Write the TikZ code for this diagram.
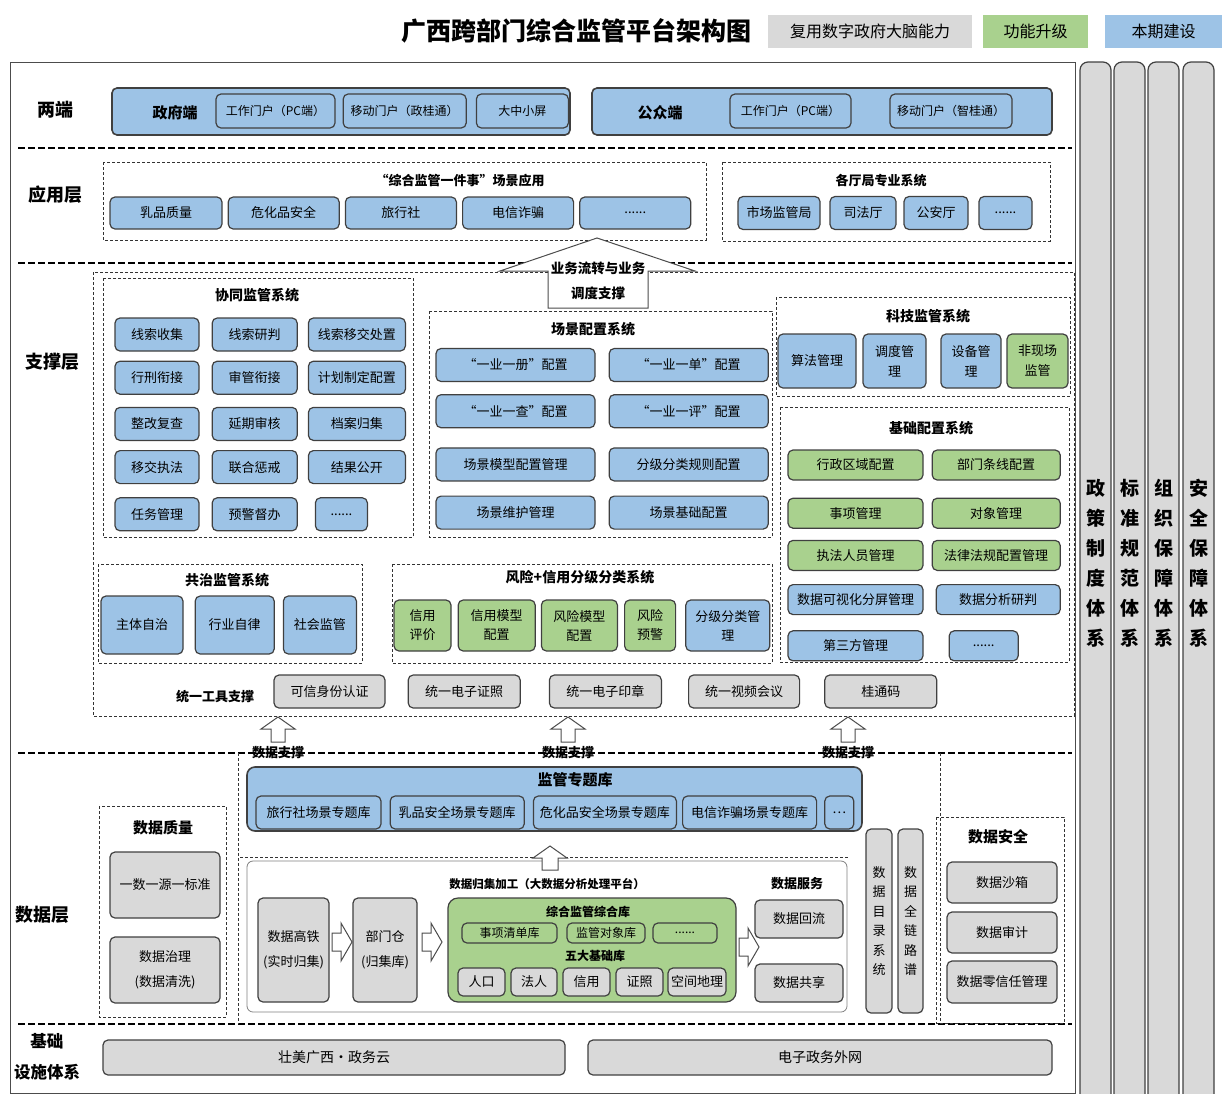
\documentclass[tikz,border=0pt]{standalone}
\usepackage{fontspec}
\setmainfont{Noto Sans CJK SC}
\usepackage{tikz}
\usetikzlibrary{positioning}

\definecolor{capblue}{HTML}{9DC3E6}
\definecolor{capgreen}{HTML}{A9D18E}
\definecolor{capgray}{HTML}{D9D9D9}

\begin{document}
\begin{tikzpicture}[x=1pt, y=-1pt,
    cell/.style={draw=black!75, line width=1.2pt, rounded corners=5pt, align=center, inner sep=2pt, font=\fontsize{13}{16}\selectfont},
    bluebox/.style={cell, fill=capblue},
    greenbox/.style={cell, fill=capgreen},
    graybox/.style={cell, fill=capgray},
    legend/.style={align=center, font=\fontsize{16}{19}\selectfont},
    wh/.style 2 args={minimum width=#1, minimum height=#2},
    fs/.style 2 args={font=\fontsize{#1}{#2}\selectfont},
    fb/.style 2 args={font=\bfseries\fontsize{#1}{#2}\selectfont},
    grp/.style={draw=black!80, densely dashed, line width=0.7pt},
    grptitle/.style={align=center, font=\bfseries\fontsize{14}{17}\selectfont},
    layer/.style={align=center, font=\bfseries\fontsize{18}{31}\selectfont},
    sepline/.style={draw=black, line width=2pt, dash pattern=on 7pt off 3pt},
    hollow/.style={draw=black!70, fill=white, line width=1pt},
    pillar/.style={draw=black!75, line width=1.2pt, fill=capgray, rounded corners=8pt}]

    \useasboundingbox (0,0) rectangle (1224,1093);

    % title and legend
    \node[fb={25}{28}] (title) at (576,31) {广西跨部门综合监管平台架构图};
    \node[legend, fill=capgray, wh={204}{33}] (lgreuse) at (870,31) {复用数字政府大脑能力};
    \node[legend, fill=capgreen, wh={105}{33}] (lgup) at (1035.5,31) {功能升级};
    \node[legend, fill=capblue, wh={117}{33}] (lgnew) at (1163.5,31) {本期建设};

    % frame and the four pillars on the right
    \draw[black!70, line width=1pt] (10,62) rectangle (1075,1093);
    \foreach \x/\t [count=\i] in {1080/{政\\策\\制\\度\\体\\系}, 1114/{标\\准\\规\\范\\体\\系},
                                  1148/{组\\织\\保\\障\\体\\系}, 1183/{安\\全\\保\\障\\体\\系}} {
        \draw[pillar] (\x,62) rectangle (\x+31,1110);
        \node[align=center, fb={19}{30}] (pillar\i) at (\x+15.5,563) {\t};
    }

    % layer separators
    \foreach \y in {148,263,753,1024}
        \draw[sepline] (18,\y) -- (1072,\y);

    \node[layer] (lyends) at (55,110) {两端};
    \node[layer] (lyapp) at (55,195) {应用层};
    \node[layer] (lysup) at (52,362) {支撑层};
    \node[layer] (lydata) at (42,915) {数据层};
    \node[layer, fb={16.5}{31}] (lybase) at (47,1057) {基础\\设施体系};

    % two ends
    \node[bluebox, line width=1.6pt, wh={458}{47}] (gov) at (341,111.5) {};
    \node[fb={15}{18}] (govlbl) at (175,113) {政府端};
    \node[bluebox, fs={12}{15}, wh={119}{34}] (govpc) at (275.5,111) {工作门户（PC端）};
    \node[bluebox, fs={12}{15}, wh={123}{34}, right=7pt of govpc] (govmob) {移动门户（政桂通）};
    \node[bluebox, fs={12}{15}, wh={92}{34}, right=9pt of govmob] (govscr) {大中小屏};

    \node[bluebox, line width=1.6pt, wh={460}{47}] (pub) at (822,111.5) {};
    \node[fb={15}{18}] (publbl) at (660,113) {公众端};
    \node[bluebox, fs={12}{15}, wh={121}{34}] (pubpc) at (790.5,111) {工作门户（PC端）};
    \node[bluebox, fs={12}{15}, wh={122}{34}] (pubmob) at (951,111) {移动门户（智桂通）};

    % application layer
    \draw[grp] (103,162) rectangle (706,240);
    \node[grptitle, fb={13}{16}] (scenetitle) at (460,181) {“综合监管一件事”场景应用};
    \node[bluebox, wh={112}{32}] (app1) at (166,213) {乳品质量};
    \node[bluebox, wh={111}{32}, right=5pt of app1] (app2) {危化品安全};
    \node[bluebox, wh={111}{32}, right=5pt of app2] (app3) {旅行社};
    \node[bluebox, wh={111}{32}, right=5pt of app3] (app4) {电信诈骗};
    \node[bluebox, wh={111}{32}, right=5pt of app4] (app5) {......};

    \draw[grp] (722,162) rectangle (1050,241);
    \node[grptitle, fb={13}{16}] (depttitle) at (881,181) {各厅局专业系统};
    \node[bluebox, wh={82}{33}] (dept1) at (779,213) {市场监管局};
    \node[bluebox, wh={66}{33}] (dept2) at (863,213) {司法厅};
    \node[bluebox, wh={64}{33}] (dept3) at (936,213) {公安厅};
    \node[bluebox, wh={53}{33}] (dept4) at (1005.5,213) {......};

    % support layer
    \draw[grp] (93,272) rectangle (1074,716);

    \draw[grp] (103,278) rectangle (413,537);
    \node[grptitle] (xttitle) at (257,295) {协同监管系统};
    \node[bluebox, wh={84}{33}] (xt11) at (157,334.5) {线索收集};
    \node[bluebox, wh={85}{33}, right=12pt of xt11] (xt12) {线索研判};
    \node[bluebox, wh={97}{33}, right=10pt of xt12] (xt13) {线索移交处置};
    \node[bluebox, wh={84}{33}, below=9pt of xt11] (xt21) {行刑衔接};
    \node[bluebox, wh={85}{33}, right=12pt of xt21] (xt22) {审管衔接};
    \node[bluebox, wh={97}{33}, right=10pt of xt22] (xt23) {计划制定配置};
    \node[bluebox, wh={84}{33}, below=12pt of xt21] (xt31) {整改复查};
    \node[bluebox, wh={85}{33}, right=12pt of xt31] (xt32) {延期审核};
    \node[bluebox, wh={97}{33}, right=10pt of xt32] (xt33) {档案归集};
    \node[bluebox, wh={84}{33}, below=9pt of xt31] (xt41) {移交执法};
    \node[bluebox, wh={85}{33}, right=12pt of xt41] (xt42) {联合惩戒};
    \node[bluebox, wh={97}{33}, right=10pt of xt42] (xt43) {结果公开};
    \node[bluebox, wh={84}{33}, below=13pt of xt41] (xt51) {任务管理};
    \node[bluebox, wh={85}{33}, right=12pt of xt51] (xt52) {预警督办};
    \node[bluebox, wh={52}{33}, right=17pt of xt52] (xt53) {......};

    \draw[grp] (429,311) rectangle (772,537);
    \node[grptitle] (cjtitle) at (593,329) {场景配置系统};
    \node[bluebox, wh={159}{33}] (cj11) at (515.5,365) {“一业一册”配置};
    \node[bluebox, wh={159}{33}, right=13pt of cj11] (cj12) {“一业一单”配置};
    \node[bluebox, wh={159}{33}, below=12pt of cj11] (cj21) {“一业一查”配置};
    \node[bluebox, wh={159}{33}, right=13pt of cj21] (cj22) {“一业一评”配置};
    \node[bluebox, wh={159}{33}, below=19pt of cj21] (cj31) {场景模型配置管理};
    \node[bluebox, wh={159}{33}, right=13pt of cj31] (cj32) {分级分类规则配置};
    \node[bluebox, wh={159}{33}, below=14pt of cj31] (cj41) {场景维护管理};
    \node[bluebox, wh={159}{33}, right=13pt of cj41] (cj42) {场景基础配置};

    \draw[grp] (776,297) rectangle (1070,396);
    \node[grptitle] (kjtitle) at (928,316) {科技监管系统};
    \node[bluebox, fs={13}{20}, wh={78}{54}] (kj1) at (817,361) {算法管理};
    \node[bluebox, fs={13}{20}, wh={63}{54}] (kj2) at (894.5,361) {调度管\\理};
    \node[bluebox, fs={13}{20}, wh={60}{54}] (kj3) at (971,361) {设备管\\理};
    \node[greenbox, fs={13}{20}, wh={61}{54}] (kj4) at (1037.5,361) {非现场\\监管};

    \draw[grp] (780,407) rectangle (1069,662);
    \node[grptitle] (jctitle) at (931,428) {基础配置系统};
    \node[greenbox, wh={135}{30}] (jc11) at (855.5,465) {行政区域配置};
    \node[greenbox, wh={128}{30}, right=8pt of jc11] (jc12) {部门条线配置};
    \node[greenbox, wh={135}{30}, below=17pt of jc11] (jc21) {事项管理};
    \node[greenbox, wh={128}{30}, right=8pt of jc21] (jc22) {对象管理};
    \node[greenbox, wh={135}{30}, below=11pt of jc21] (jc31) {执法人员管理};
    \node[greenbox, wh={128}{30}, right=8pt of jc31] (jc32) {法律法规配置管理};
    \node[bluebox, wh={135}{30}, below=13pt of jc31] (jc41) {数据可视化分屏管理};
    \node[bluebox, wh={124}{30}, right=12pt of jc41] (jc42) {数据分析研判};
    \node[bluebox, wh={135}{30}, below=15pt of jc41] (jc51) {第三方管理};
    \node[bluebox, wh={69}{30}, right=25pt of jc51] (jc52) {......};

    \draw[grp] (98,564) rectangle (362,663);
    \node[grptitle] (gztitle) at (227,580) {共治监管系统};
    \node[bluebox, fs={13}{16}, wh={82}{58}] (gz1) at (142,625) {主体自治};
    \node[bluebox, fs={13}{16}, wh={79}{58}, right=11pt of gz1] (gz2) {行业自律};
    \node[bluebox, fs={13}{16}, wh={73}{58}, right=8pt of gz2] (gz3) {社会监管};

    \draw[grp] (392,564) rectangle (772,663);
    \node[grptitle] (fxtitle) at (580,577) {风险+信用分级分类系统};
    \node[greenbox, fs={13}{19}, wh={57}{51}] (fx1) at (422.5,625.5) {信用\\评价};
    \node[greenbox, fs={13}{19}, wh={77}{51}, right=6pt of fx1] (fx2) {信用模型\\配置};
    \node[greenbox, fs={13}{19}, wh={76}{51}, right=5pt of fx2] (fx3) {风险模型\\配置};
    \node[greenbox, fs={13}{19}, wh={51}{51}, right=6pt of fx3] (fx4) {风险\\预警};
    \node[bluebox, fs={13}{19}, wh={84}{51}, right=9pt of fx4] (fx5) {分级分类管\\理};

    \node[grptitle, fb={13}{16}] (toollbl) at (215,697) {统一工具支撑};
    \node[graybox, wh={111}{33}] (tl1) at (329.5,691.5) {可信身份认证};
    \node[graybox, wh={112}{33}, right=22pt of tl1] (tl2) {统一电子证照};
    \node[graybox, wh={112}{33}, right=28pt of tl2] (tl3) {统一电子印章};
    \node[graybox, wh={111}{33}, right=26pt of tl3] (tl4) {统一视频会议};
    \node[graybox, wh={112}{33}, right=24pt of tl4] (tl5) {桂通码};

    % business flow arrow up to the application layer
    \draw[hollow] (548,308) -- (548,271) -- (500,271) -- (597,238) -- (695,271) -- (648,271) -- (648,308) -- cycle;
    \node[align=center, fb={13.5}{25}] (flow) at (598,281) {业务流转与业务\\调度支撑};

    % data support arrows
    \foreach \x in {278,568,848} {
        \draw[hollow] (\x-7,742) -- (\x-7,729) -- (\x-17,729) -- (\x,717) -- (\x+17,729) -- (\x+7,729) -- (\x+7,742) -- cycle;
        \node[fb={13}{16}] (dsup\x) at (\x,753) {数据支撑};
    }

    % data layer
    \draw[grp] (238,753) -- (238,1024);
    \draw[grp] (940,753) -- (940,1024);

    \node[bluebox, line width=1.6pt, rounded corners=8pt, wh={615}{64}] (ztk) at (554.5,799) {};
    \node[fb={15}{18}] (ztktitle) at (575,780) {监管专题库};
    \node[bluebox, wh={125}{33}] (zt1) at (318.5,812.5) {旅行社场景专题库};
    \node[bluebox, wh={134}{33}, right=8pt of zt1] (zt2) {乳品安全场景专题库};
    \node[bluebox, wh={143}{33}, right=8pt of zt2] (zt3) {危化品安全场景专题库};
    \node[bluebox, wh={134}{33}, right=5pt of zt3] (zt4) {电信诈骗场景专题库};
    \node[bluebox, wh={29}{33}, right=7pt of zt4] (zt5) {…};

    \draw[grp] (240,857) -- (849,857);
    \node[draw=black!50, line width=0.8pt, rounded corners=6pt, fill=white, wh={600}{151}] (gjbox) at (547,936.5) {};
    \draw[hollow] (542,870) -- (542,858) -- (533,858) -- (550,846) -- (567,858) -- (558,858) -- (558,870) -- cycle;
    \node[fb={11.5}{14}] (gjtitle) at (547,884) {数据归集加工（大数据分析处理平台）};
    \node[fb={13}{16}] (svctitle) at (797,884) {数据服务};

    \node[graybox, fs={13}{25}, wh={71}{104}] (gt1) at (293.5,950) {数据高铁\\(实时归集)};
    \node[graybox, fs={13}{25}, wh={64}{104}] (gt2) at (385,950) {部门仓\\(归集库)};

    \node[greenbox, rounded corners=10pt, wh={288}{104}] (zhk) at (592,950) {};
    \node[fb={12}{14}] (zhtitle) at (588,912) {综合监管综合库};
    \node[greenbox, fs={12}{14}, wh={95}{20}] (zh1) at (509.5,933) {事项清单库};
    \node[greenbox, fs={12}{14}, wh={78}{20}] (zh2) at (606,933) {监管对象库};
    \node[greenbox, fs={12}{14}, wh={64}{20}] (zh3) at (685,933) {......};
    \node[fb={12}{14}] (jktitle) at (595,956) {五大基础库};
    \node[graybox, wh={47}{28}] (jk1) at (481.5,982) {人口};
    \node[graybox, wh={46}{28}] (jk2) at (534,982) {法人};
    \node[graybox, wh={47}{28}] (jk3) at (586.5,982) {信用};
    \node[graybox, wh={47}{28}] (jk4) at (639.5,982) {证照};
    \node[graybox, wh={58}{28}] (jk5) at (697,982) {空间地理};

    \foreach \x/\y in {332/942, 422/942, 739/947}
        \draw[hollow] (\x,\y-9) -- (\x+9,\y-9) -- (\x+9,\y-19) -- (\x+20,\y) -- (\x+9,\y+19) -- (\x+9,\y+9) -- (\x,\y+9) -- cycle;

    \node[graybox, wh={88}{38}] (sv1) at (799,919) {数据回流};
    \node[graybox, wh={88}{38}] (sv2) at (799,983) {数据共享};

    \draw[grp] (99,806) rectangle (226,1017);
    \node[fb={15}{18}] (zltitle) at (163,828) {数据质量};
    \node[graybox, fs={13}{25}, wh={110}{66}] (zl1) at (165,885) {一数一源一标准};
    \node[graybox, fs={13}{25}, wh={110}{66}] (zl2) at (165,970) {数据治理\\(数据清洗)};

    \node[graybox, fs={13}{19.5}, inner sep=1pt, wh={26}{184}] (ml1) at (879,921) {数\\据\\目\\录\\系\\统};
    \node[graybox, fs={13}{19.5}, inner sep=1pt, wh={25}{184}] (ml2) at (910.5,921) {数\\据\\全\\链\\路\\谱};

    \draw[grp] (936,817) rectangle (1064,1023);
    \node[fb={15}{18}] (aqtitle) at (998,837) {数据安全};
    \node[graybox, wh={110}{41}] (aq1) at (1002,882.5) {数据沙箱};
    \node[graybox, wh={110}{41}] (aq2) at (1002,932.5) {数据审计};
    \node[graybox, wh={110}{42}] (aq3) at (1002,982) {数据零信任管理};

    % infrastructure
    \node[graybox, fs={14}{17}, wh={462}{35}] (bs1) at (334,1057.5) {壮美广西·政务云};
    \node[graybox, fs={14}{17}, wh={464}{35}] (bs2) at (820,1057.5) {电子政务外网};
\end{tikzpicture}
\end{document}
